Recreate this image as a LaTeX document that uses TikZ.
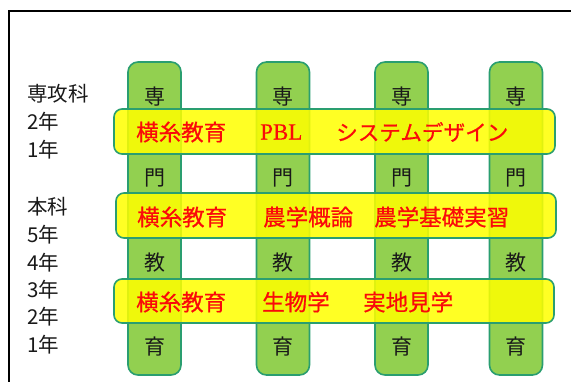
\documentclass[tikz,border=0pt]{standalone}
\usepackage{fontspec}
\newfontfamily\jp{Noto Sans CJK JP}
\newfontfamily\jpbold[FakeBold=0.6]{Noto Sans CJK JP}
\newfontfamily\latinserif[FakeBold=0.3]{Liberation Serif}
\definecolor{colfill}{RGB}{146,208,80}
\definecolor{edgegreen}{RGB}{42,158,112}
\definecolor{bandyellow}{RGB}{255,255,0}
\definecolor{redtxt}{RGB}{250,10,10}
\definecolor{ink}{RGB}{25,25,25}
\begin{document}
\begin{tikzpicture}[x=1pt,y=-1pt,
  colbox/.style={draw=edgegreen, line width=1.6pt, fill=colfill, rounded corners=10pt, minimum width=53pt, minimum height=313pt, inner sep=0pt},
  bandbox/.style={draw=edgegreen, line width=1.6pt, fill=bandyellow, fill opacity=0.86, rounded corners=8pt, minimum height=45pt, inner sep=0pt},
  yearlbl/.style={anchor=west, font=\jp\fontsize{20.5}{20.5}\selectfont, text=ink, inner sep=0pt},
  colchar/.style={font=\jp\fontsize{21}{21}\selectfont, text=ink, inner sep=0pt},
  bandtxt/.style={anchor=west, font=\jpbold\fontsize{22.5}{22.5}\selectfont, text=redtxt, inner sep=0pt},
  bandlatin/.style={anchor=west, font=\latinserif\fontsize{23}{23}\selectfont, text=redtxt, inner sep=0pt}]
\useasboundingbox (0,0) rectangle (571,381);
% frame
\draw[line width=1.6pt, black] (9,382) -- (9,11) -- (572,11);
% year labels
\node[yearlbl] (l1) at (27,94) {専攻科};
\node[yearlbl] (l2) at (27,122) {2年};
\node[yearlbl] (l3) at (27,150) {1年};
\node[yearlbl] (l4) at (27,207) {本科};
\node[yearlbl] (l5) at (27,235) {5年};
\node[yearlbl] (l6) at (27,263) {4年};
\node[yearlbl] (l7) at (27,290) {3年};
\node[yearlbl] (l8) at (27,317) {2年};
\node[yearlbl] (l9) at (27,345) {1年};
% columns
\foreach \cx/\nm in {154.5/a, 283/b, 401.5/c, 516/d}{
  \node[colbox] (col\nm) at (\cx,218.5) {};
  \node[colchar] (sen\nm) at (\cx,97) {専};
  \node[colchar] (mon\nm) at (\cx,178) {門};
  \node[colchar] (kyo\nm) at (\cx,263) {教};
  \node[colchar] (iku\nm) at (\cx,347) {育};
}
% bands
\node[bandbox, minimum width=441pt] (band1) at (334.5,131.5) {};
\node[bandbox, minimum width=440pt] (band2) at (336,215.5) {};
\node[bandbox, minimum width=440pt, minimum height=44pt] (band3) at (334,301) {};
% band texts
\node[bandtxt] (t11) at (136,132) {横糸教育};
\node[bandlatin] (t12) at (260,132) {PBL};
\node[bandtxt, font=\jpbold\fontsize{21.6}{21.6}\selectfont] (t13) at (336,132) {システムデザイン};
\node[bandtxt] (t21) at (137,217) {横糸教育};
\node[bandtxt] (t22) at (263,217) {農学概論};
\node[bandtxt] (t23) at (374,217) {農学基礎実習};
\node[bandtxt] (t31) at (136,302) {横糸教育};
\node[bandtxt] (t32) at (262,302) {生物学};
\node[bandtxt] (t33) at (363,302) {実地見学};
\end{tikzpicture}
\end{document}
